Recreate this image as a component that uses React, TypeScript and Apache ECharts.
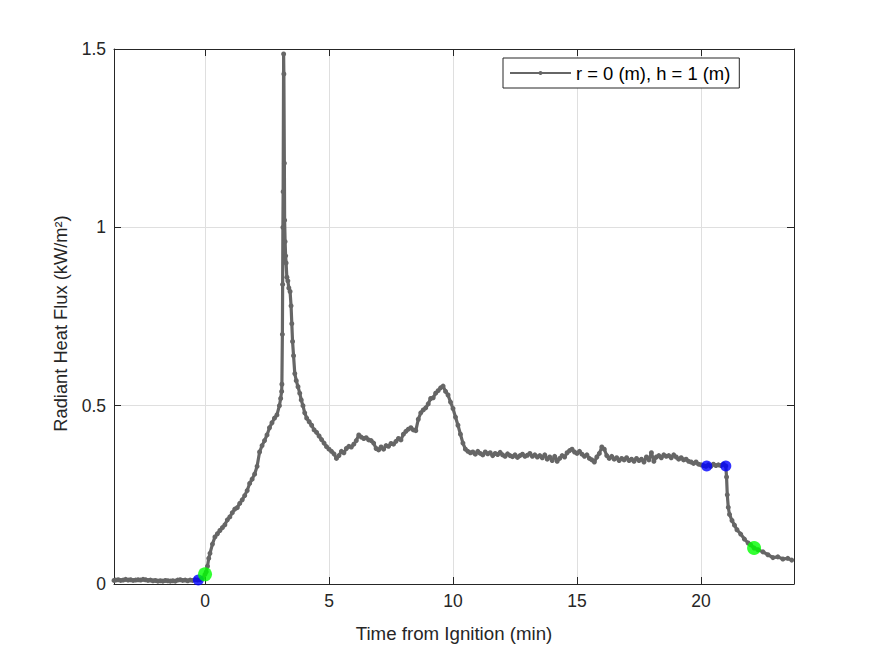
import React, { useEffect, useRef } from "react";
import * as echarts from "echarts";

// [time (min), radiant heat flux (kW/m^2)]
const preIgnition: number[][] = [
  [-3.67, 0.010], [-3.6, 0.011], [-3.5, 0.012], [-3.4, 0.010], [-3.3, 0.011], [-3.2, 0.013],
  [-3.1, 0.011], [-3.0, 0.012], [-2.9, 0.010], [-2.8, 0.011], [-2.7, 0.012], [-2.6, 0.011],
  [-2.5, 0.013], [-2.4, 0.012], [-2.3, 0.010], [-2.2, 0.011], [-2.1, 0.009], [-2.0, 0.010],
  [-1.9, 0.008], [-1.8, 0.009], [-1.7, 0.008], [-1.6, 0.010], [-1.5, 0.009], [-1.4, 0.008],
  [-1.3, 0.009], [-1.2, 0.008], [-1.1, 0.011], [-1.0, 0.012], [-0.9, 0.010], [-0.8, 0.011],
  [-0.7, 0.009], [-0.6, 0.011], [-0.5, 0.010], [-0.4, 0.012], [-0.3, 0.011], [-0.2, 0.012],
  [-0.1, 0.016], [0.0, 0.027],
];

const growth: number[][] = [
  [0.05, 0.034], [0.1, 0.05], [0.15, 0.072], [0.2, 0.086], [0.3, 0.112], [0.4, 0.132],
  [0.5, 0.141], [0.6, 0.15], [0.7, 0.158], [0.8, 0.166], [0.9, 0.18], [1.0, 0.188],
  [1.1, 0.2], [1.2, 0.21], [1.3, 0.214], [1.4, 0.226], [1.5, 0.236], [1.6, 0.248],
  [1.7, 0.262], [1.8, 0.282], [1.9, 0.294], [2.0, 0.308], [2.1, 0.33], [2.2, 0.37],
  [2.3, 0.388], [2.4, 0.402], [2.5, 0.418], [2.6, 0.438], [2.7, 0.452], [2.8, 0.465],
  [2.9, 0.474], [3.0, 0.5], [3.05, 0.52], [3.09, 0.54],
];

const flashover: number[][] = [
  [3.1, 0.56], [3.12, 0.7], [3.13, 0.84], [3.14, 1.0], [3.15, 1.1], [3.17, 1.486],
  [3.18, 1.43], [3.2, 1.18], [3.21, 1.02], [3.23, 0.96], [3.25, 0.92], [3.27, 0.9],
  [3.3, 0.86], [3.34, 0.85], [3.38, 0.83], [3.43, 0.82], [3.47, 0.78], [3.5, 0.73],
  [3.53, 0.68], [3.57, 0.64], [3.62, 0.59], [3.68, 0.57], [3.75, 0.553], [3.82, 0.535],
  [3.88, 0.516], [3.95, 0.5], [4.02, 0.48],
];

const secondPeak: number[][] = [
  [4.1, 0.465], [4.2, 0.455], [4.3, 0.445], [4.4, 0.432], [4.5, 0.425], [4.6, 0.415],
  [4.7, 0.405], [4.8, 0.395], [4.9, 0.385], [5.0, 0.378], [5.1, 0.372], [5.2, 0.365],
  [5.3, 0.352], [5.4, 0.36], [5.5, 0.372], [5.6, 0.368], [5.7, 0.38], [5.8, 0.386],
  [5.9, 0.384], [6.0, 0.392], [6.1, 0.402], [6.2, 0.418], [6.3, 0.412], [6.4, 0.408],
  [6.5, 0.41], [6.6, 0.404], [6.7, 0.402], [6.8, 0.395], [6.9, 0.38], [7.0, 0.376],
  [7.1, 0.384], [7.2, 0.378], [7.3, 0.388], [7.4, 0.386], [7.5, 0.394], [7.6, 0.392],
  [7.7, 0.4], [7.8, 0.408], [7.9, 0.404], [8.0, 0.42], [8.1, 0.428], [8.2, 0.434],
  [8.3, 0.438], [8.4, 0.432], [8.5, 0.43], [8.6, 0.462], [8.7, 0.48], [8.8, 0.488],
  [8.9, 0.494], [9.0, 0.505], [9.1, 0.52], [9.2, 0.522], [9.3, 0.535], [9.4, 0.542],
  [9.5, 0.55], [9.6, 0.555], [9.7, 0.54], [9.8, 0.53], [9.9, 0.51], [10.0, 0.492],
  [10.1, 0.468], [10.2, 0.445], [10.3, 0.42], [10.4, 0.395], [10.5, 0.378], [10.6, 0.372],
  [10.7, 0.368],
];

const plateau: number[][] = [
  [10.8, 0.37], [10.9, 0.364], [11.0, 0.372], [11.1, 0.366], [11.2, 0.362], [11.3, 0.37],
  [11.4, 0.365], [11.5, 0.368], [11.6, 0.36], [11.7, 0.366], [11.8, 0.363], [11.9, 0.369],
  [12.0, 0.362], [12.1, 0.358], [12.2, 0.365], [12.3, 0.36], [12.4, 0.357], [12.5, 0.362],
  [12.6, 0.355], [12.7, 0.36], [12.8, 0.364], [12.9, 0.358], [13.0, 0.361], [13.1, 0.366],
  [13.2, 0.358], [13.3, 0.362], [13.4, 0.356], [13.5, 0.36], [13.6, 0.354], [13.7, 0.362],
  [13.8, 0.35], [13.9, 0.356], [14.0, 0.346], [14.1, 0.358], [14.2, 0.344], [14.3, 0.352],
  [14.4, 0.36], [14.5, 0.356], [14.6, 0.368], [14.7, 0.374], [14.8, 0.378], [14.9, 0.37],
  [15.0, 0.366], [15.1, 0.372], [15.2, 0.364], [15.3, 0.358], [15.4, 0.362], [15.5, 0.352],
  [15.6, 0.348], [15.7, 0.342], [15.8, 0.356], [15.9, 0.366], [16.0, 0.384], [16.1, 0.378],
  [16.2, 0.36], [16.3, 0.352], [16.4, 0.358], [16.5, 0.35], [16.6, 0.354], [16.7, 0.346],
  [16.8, 0.352], [16.9, 0.348], [17.0, 0.354], [17.1, 0.346], [17.2, 0.35], [17.3, 0.344],
  [17.4, 0.352], [17.5, 0.346], [17.6, 0.35], [17.7, 0.342], [17.8, 0.356], [17.9, 0.348],
  [18.0, 0.368], [18.1, 0.344], [18.2, 0.356], [18.3, 0.36], [18.4, 0.354], [18.5, 0.362],
  [18.6, 0.358], [18.7, 0.36], [18.8, 0.354], [18.9, 0.362], [19.0, 0.356], [19.1, 0.35],
  [19.2, 0.354], [19.3, 0.348], [19.4, 0.35], [19.5, 0.344], [19.6, 0.342], [19.7, 0.338],
  [19.8, 0.342], [19.9, 0.336], [20.0, 0.334], [20.1, 0.332], [20.2, 0.33], [20.3, 0.334],
  [20.4, 0.33], [20.5, 0.336], [20.6, 0.332], [20.7, 0.334], [20.8, 0.332], [20.9, 0.336],
  [21.0, 0.331],
];

const burnout: number[][] = [
  [21.03, 0.3], [21.06, 0.25], [21.1, 0.215], [21.15, 0.195], [21.25, 0.178], [21.35, 0.165],
  [21.45, 0.152], [21.6, 0.14], [21.75, 0.126], [21.9, 0.115], [22.0, 0.11], [22.14, 0.101],
  [22.3, 0.096], [22.5, 0.09], [22.7, 0.082], [22.9, 0.074], [23.1, 0.076], [23.3, 0.07],
  [23.5, 0.072], [23.66, 0.067],
];

const blueMarkers: number[][] = [[-0.27, 0.011], [20.23, 0.331], [21.0, 0.331]];
const greenMarkers: number[][] = [[0.0, 0.027], [22.14, 0.101]];

const xRange = [-3.67, 23.75];
const yRange = [0, 1.5];
const seriesName = "r = 0 (m), h = 1 (m)";
const xTitle = "Time from Ignition (min)";
const yTitle = "Radiant Heat Flux (kW/m²)";

const FONT = "'Liberation Sans', Arial, Helvetica, sans-serif";
const INK = "#262626";

export default function App() {
  const ref = useRef<HTMLDivElement>(null);

  useEffect(() => {
    if (!ref.current) return;
    const chart = echarts.init(ref.current, undefined, { renderer: "svg" });
    const lineData = [
      ...preIgnition,
      ...growth,
      ...flashover,
      ...secondPeak,
      ...plateau,
      ...burnout,
    ];
    const boxAxisX = {
      type: "value",
      min: xRange[0],
      max: xRange[1],
      position: "top",
      axisLine: { show: true, onZero: false, lineStyle: { color: INK, width: 1 } },
      axisTick: { show: true, inside: true, length: 7, lineStyle: { color: INK } },
      axisLabel: { show: false },
      splitLine: { show: false },
    };
    const boxAxisY = {
      type: "value",
      min: yRange[0],
      max: yRange[1],
      interval: 0.5,
      position: "right",
      axisLine: { show: true, onZero: false, lineStyle: { color: INK, width: 1 } },
      axisTick: { show: true, inside: true, length: 7, lineStyle: { color: INK } },
      axisLabel: { show: false },
      splitLine: { show: false },
    };
    chart.setOption({
      animation: false,
      backgroundColor: "#ffffff",
      textStyle: { fontFamily: FONT },
      grid: { left: 114, right: 81, top: 49, bottom: 72, containLabel: false },
      legend: {
        data: [seriesName],
        left: 503,
        top: 58,
        padding: [6, 9, 6, 6],
        itemWidth: 61,
        itemHeight: 5,
        itemGap: 0,
        backgroundColor: "#ffffff",
        borderColor: INK,
        borderWidth: 1,
        borderRadius: 0,
        lineStyle: { width: 2 },
        textStyle: { fontFamily: FONT, fontSize: 18.4, color: "#000000" },
      },
      xAxis: [
        {
          type: "value",
          min: xRange[0],
          max: xRange[1],
          position: "bottom",
          name: xTitle,
          nameLocation: "middle",
          nameGap: 40,
          nameTextStyle: { fontFamily: FONT, fontSize: 18.7, color: INK },
          axisLine: { show: true, onZero: false, lineStyle: { color: INK, width: 1 } },
          axisTick: { show: true, inside: true, length: 7, lineStyle: { color: INK } },
          axisLabel: {
            show: true,
            showMinLabel: false,
            showMaxLabel: false,
            margin: 8,
            fontFamily: FONT,
            fontSize: 17.5,
            color: INK,
          },
          splitLine: { show: true, lineStyle: { color: "#dfdfdf", width: 1 } },
        },
        boxAxisX,
      ],
      yAxis: [
        {
          type: "value",
          min: yRange[0],
          max: yRange[1],
          interval: 0.5,
          position: "left",
          name: yTitle,
          nameLocation: "middle",
          nameGap: 45,
          nameRotate: 90,
          nameTextStyle: {
            fontFamily: FONT,
            fontSize: 18.3,
            color: INK,
            padding: [0, 14, 0, 0],
          },
          axisLine: { show: true, onZero: false, lineStyle: { color: INK, width: 1 } },
          axisTick: { show: true, inside: true, length: 7, lineStyle: { color: INK } },
          axisLabel: { show: true, margin: 8, fontFamily: FONT, fontSize: 17.5, color: INK },
          splitLine: { show: true, lineStyle: { color: "#dfdfdf", width: 1 } },
        },
        boxAxisY,
      ],
      series: [
        {
          name: seriesName,
          type: "line",
          data: lineData,
          xAxisIndex: 0,
          yAxisIndex: 0,
          color: "#666666",
          lineStyle: { color: "#666666", width: 3.2 },
          itemStyle: { color: "#666666" },
          symbol: "circle",
          symbolSize: 5,
          showSymbol: true,
          showAllSymbol: true,
          clip: true,
          z: 2,
        },
        {
          name: "blue",
          type: "scatter",
          data: blueMarkers,
          symbol: "circle",
          symbolSize: 11,
          itemStyle: { color: "#0000ff" },
          z: 3,
        },
        {
          name: "green",
          type: "scatter",
          data: greenMarkers,
          symbol: "circle",
          symbolSize: 14,
          itemStyle: { color: "#00ff00" },
          z: 4,
        },
      ],
    });
    return () => chart.dispose();
  }, []);

  return (
    <div
      ref={ref}
      style={{ position: "absolute", left: 0, top: 0, width: 875, height: 656 }}
    />
  );
}
